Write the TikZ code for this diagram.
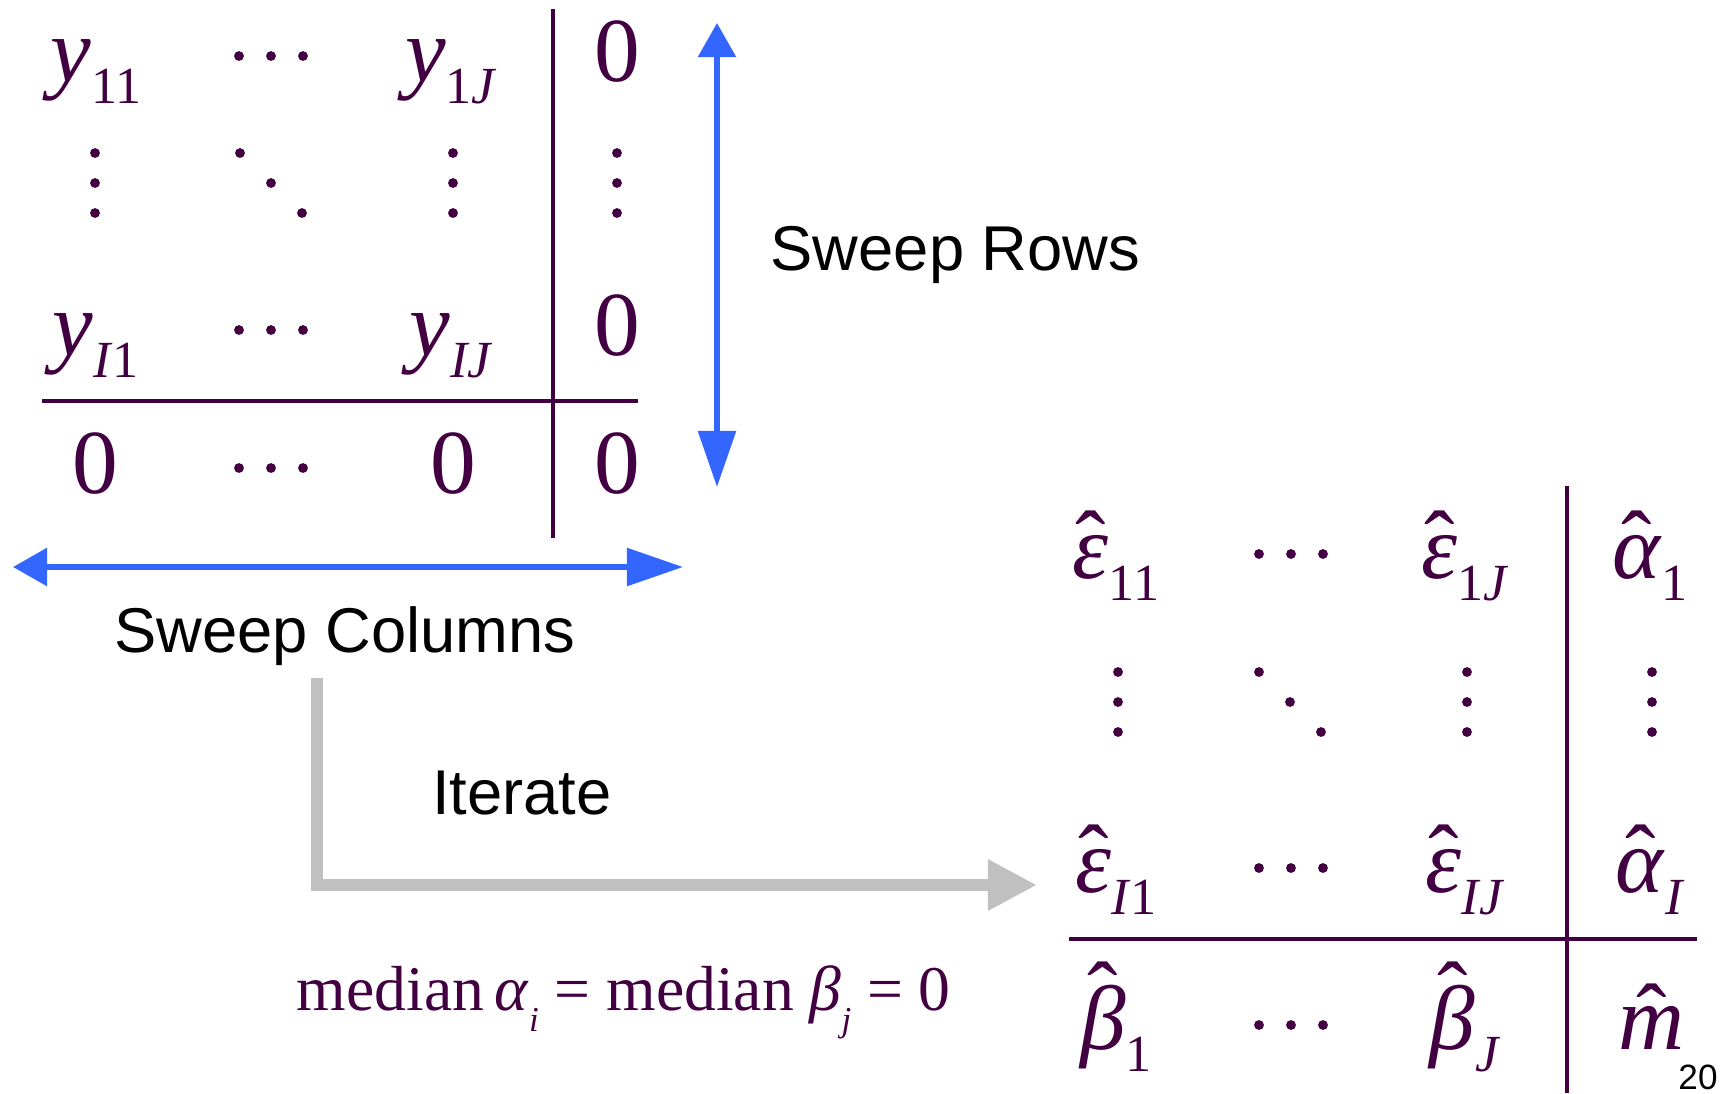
\documentclass[tikz,border=0pt]{standalone}
\usepackage{fontspec}
\usepackage{graphicx}
\setmainfont{Liberation Serif}
\newfontfamily\arialfont{Liberation Sans}
\usetikzlibrary{arrows.meta}
\definecolor{cMat}{HTML}{420042}
\definecolor{cSweep}{HTML}{3366FF}
\definecolor{cIter}{HTML}{C0C0C0}
% subscript and hat helpers
\newcommand{\sbs}[1]{\raisebox{-0.25em}{\scalebox{0.57}{#1}}}
\newcommand{\lsbs}[1]{\raisebox{-0.33em}{\scalebox{0.55}{#1}}}
\newcommand{\hatted}[2]{\ooalign{#2\cr\hidewidth\smash{\raisebox{#1}{\upshape\char"02C6}}\hidewidth\cr}}

\begin{document}
\begin{tikzpicture}[
  x=0.01cm, y=-0.01cm,
  ent/.style={anchor=base, inner sep=0pt, text=cMat,
              font=\fontsize{26}{26}\selectfont},
  lbl/.style={inner sep=0pt, font=\arialfont\fontsize{18}{18}\selectfont},
  rule/.style={cMat, line width=0.95pt},
  sweep/.style={cSweep, line width=1.6pt,
                {Triangle[length=3.4mm,width=3.7mm]}-{Triangle[length=5.6mm,width=3.7mm]}},
  iter/.style={cIter, line width=3.4pt, -{Triangle[length=4.9mm,width=4.8mm]}},
  hdots/.pic={\foreach \k in {-1,0,1} \fill[cMat] (\k*32,0) circle (1.4pt);},
  vdots/.pic={\foreach \k in {-1,0,1} \fill[cMat] (0,\k*30) circle (1.4pt);},
  ddots/.pic={\foreach \k in {-1,0,1} \fill[cMat] (\k*31,\k*30) circle (1.4pt);},
]
  \useasboundingbox (0,0) rectangle (1732,1093);
  % data table
  \node[ent] (y11) at (96,81)  {\textit{y}\sbs{11}};
  \node[ent] (y1J) at (451,81) {\textit{y}\sbs{1\textit{J}}};
  \node[ent] (z1)  at (617,81) {0};
  \node[ent] (yI1) at (96,355)  {\textit{y}\sbs{\textit{I}1}};
  \node[ent] (yIJ) at (451,355) {\textit{y}\sbs{\textit{IJ}}};
  \node[ent] (zI)  at (617,355) {0};
  \node[ent] (zc1) at (95,493)  {0};
  \node[ent] (zcJ) at (453,493) {0};
  \node[ent] (zm)  at (617,493) {0};
  \pic at (271,56) {hdots};
  \pic at (271,330) {hdots};
  \pic at (271,468) {hdots};
  \pic at (95,183) {vdots};
  \pic at (453,183) {vdots};
  \pic at (617,183) {vdots};
  \pic at (271,183) {ddots};
  \draw[rule] (42,401) -- (638,401);
  \draw[rule] (553,9) -- (553,538);
  % sweeps
  \coordinate (rowsT) at (717,23);
  \coordinate (rowsB) at (717,487);
  \coordinate (colsL) at (13,567);
  \coordinate (colsR) at (683,567);
  \draw[sweep] (rowsT) -- (rowsB);
  \draw[sweep] (colsL) -- (colsR);
  \node[lbl, anchor=west] (rows) at (770,255) {Sweep Rows};
  \node[lbl] (cols) at (345,636) {Sweep Columns};
  % iterate
  \coordinate (iterS) at (317,678);
  \coordinate (iterE) at (1037,885);
  \draw[iter] (iterS) |- (iterE);
  \node[lbl] (iter) at (522,793) {Iterate};
  \node[ent, anchor=base west, font=\fontsize{18.1}{19}\selectfont] (cond) at (296,1010)
    {median\,\textit{α}\lsbs{\textit{i}} = median \textit{β}\lsbs{\textit{j}} = 0};
  % fitted table
  \node[ent] (e11) at (1116,578) {\hatted{0.04em}{\textit{ε}}\sbs{11}};
  \node[ent] (e1J) at (1465,578) {\hatted{0.04em}{\textit{ε}}\sbs{1\textit{J}}};
  \node[ent] (a1)  at (1650,578) {\hatted{0.04em}{\textit{α}}\sbs{1}};
  \node[ent] (eI1) at (1116,892) {\hatted{0.04em}{\textit{ε}}\sbs{\textit{I}1}};
  \node[ent] (eIJ) at (1465,892) {\hatted{0.04em}{\textit{ε}}\sbs{\textit{IJ}}};
  \node[ent] (aI)  at (1650,892) {\hatted{0.04em}{\textit{α}}\sbs{\textit{I}}};
  \node[ent] (b1)  at (1116,1049) {\hatted{0.26em}{\textit{β}}\sbs{1}};
  \node[ent] (bJ)  at (1465,1049) {\hatted{0.26em}{\textit{β}}\sbs{\textit{J}}};
  \node[ent] (m)   at (1652,1049) {\hatted{0.02em}{\textit{m}}};
  \pic at (1291,554) {hdots};
  \pic at (1291,868) {hdots};
  \pic at (1291,1025) {hdots};
  \pic at (1118,702) {vdots};
  \pic at (1467,702) {vdots};
  \pic at (1652,702) {vdots};
  \pic at (1290,702) {ddots};
  \draw[rule] (1069,939) -- (1697,939);
  \draw[rule] (1567,486) -- (1567,1093);
  \node[inner sep=0pt, font=\arialfont\fontsize{10}{10}\selectfont] (page) at (1698,1077) {20};
\end{tikzpicture}
\end{document}
